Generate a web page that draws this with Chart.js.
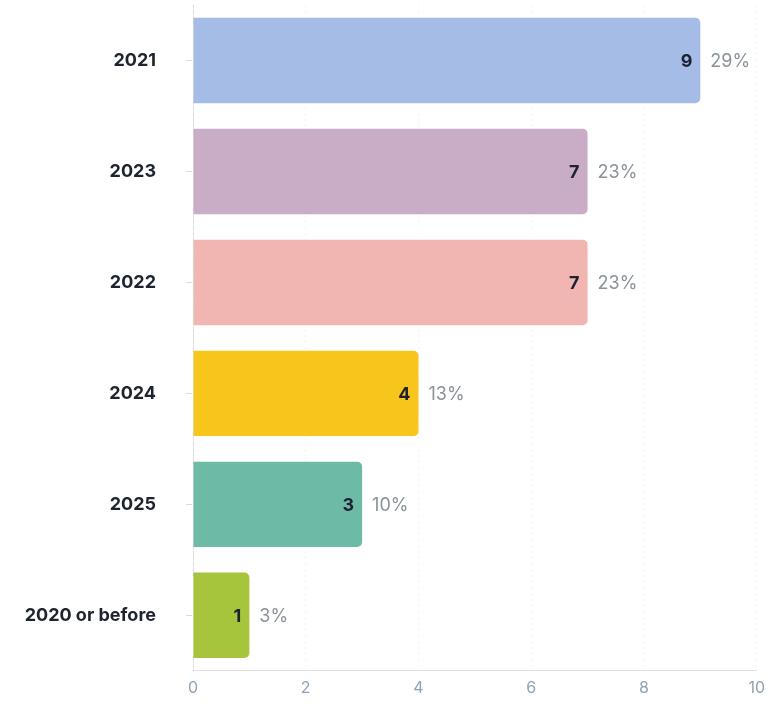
<!DOCTYPE html>
<html>
<head>
<meta charset="utf-8">
<script src="https://cdn.jsdelivr.net/npm/chart.js@4.4.1/dist/chart.umd.min.js"></script>
<style>
  html, body { margin: 0; padding: 0; background: #ffffff; overflow: hidden; }
  canvas { display: block; }
</style>
</head>
<body>
<canvas id="chart" width="773" height="705"></canvas>
<script>
// Year groups and the number of responses in each
const categories = ['2021', '2023', '2022', '2024', '2025', '2020 or before'];
const counts = [9, 7, 7, 4, 3, 1];
const barColors = ['#a4bce6', '#c9adc6', '#f1b6b1', '#f8c51c', '#6dbba7', '#a6c43c'];
const xTicks = [0, 2, 4, 6, 8, 10];

const total = counts.reduce((a, b) => a + b, 0);
const percents = counts.map(v => Math.round(v / total * 100) + '%');

const FONT = 'Inter, "Open Sans", "DejaVu Sans", sans-serif';

// Value inside the bar end, share of total just outside it
const barLabels = {
  id: 'barLabels',
  afterDatasetsDraw(chart) {
    const ctx = chart.ctx;
    const meta = chart.getDatasetMeta(0);
    ctx.save();
    ctx.textBaseline = 'middle';
    meta.data.forEach((bar, i) => {
      ctx.font = 'bold 18px ' + FONT;
      ctx.fillStyle = '#1c2230';
      ctx.textAlign = 'right';
      ctx.fillText(String(counts[i]), bar.x - 8, bar.y + 1);
      ctx.font = '18px ' + FONT;
      ctx.fillStyle = '#8a9399';
      ctx.textAlign = 'left';
      ctx.fillText(percents[i], bar.x + 10, bar.y + 1);
    });
    ctx.restore();
  }
};

new Chart(document.getElementById('chart'), {
  type: 'bar',
  data: {
    labels: categories,
    datasets: [{
      data: counts,
      backgroundColor: barColors,
      borderRadius: 5,
      borderSkipped: 'start',
      barPercentage: 0.77,
      categoryPercentage: 1.0
    }]
  },
  options: {
    indexAxis: 'y',
    responsive: false,
    animation: false,
    layout: { padding: { left: 0, right: 6, top: 5, bottom: -1 } },
    plugins: {
      legend: { display: false },
      tooltip: { enabled: false }
    },
    scales: {
      x: {
        min: 0,
        max: 10,
        afterBuildTicks(scale) {
          scale.ticks = xTicks.map(v => ({ value: v }));
        },
        grid: {
          color: 'rgba(0,0,0,0.05)',
          drawTicks: false
        },
        border: { display: true, color: 'rgba(0,0,0,0.12)', dash: [2, 4] },
        ticks: {
          padding: 8,
          color: '#8fa3b5',
          font: { family: FONT, size: 16 }
        }
      },
      y: {
        afterFit(scale) {
          scale.width = 193;
          scale.paddingTop = 0;
          scale.paddingBottom = 0;
        },
        grid: {
          offset: false,
          drawOnChartArea: false,
          drawTicks: true,
          tickLength: 37,
          tickBorderDash: [0, 30, 6, 100],
          color: 'rgba(0,0,0,0.14)'
        },
        border: { display: true, color: 'rgba(0,0,0,0.1)', dash: [2, 4] },
        ticks: {
          padding: 0,
          color: '#1d2430',
          font: { family: FONT, size: 18, weight: 'bold' }
        }
      }
    }
  },
  plugins: [barLabels]
});
</script>
</body>
</html>
